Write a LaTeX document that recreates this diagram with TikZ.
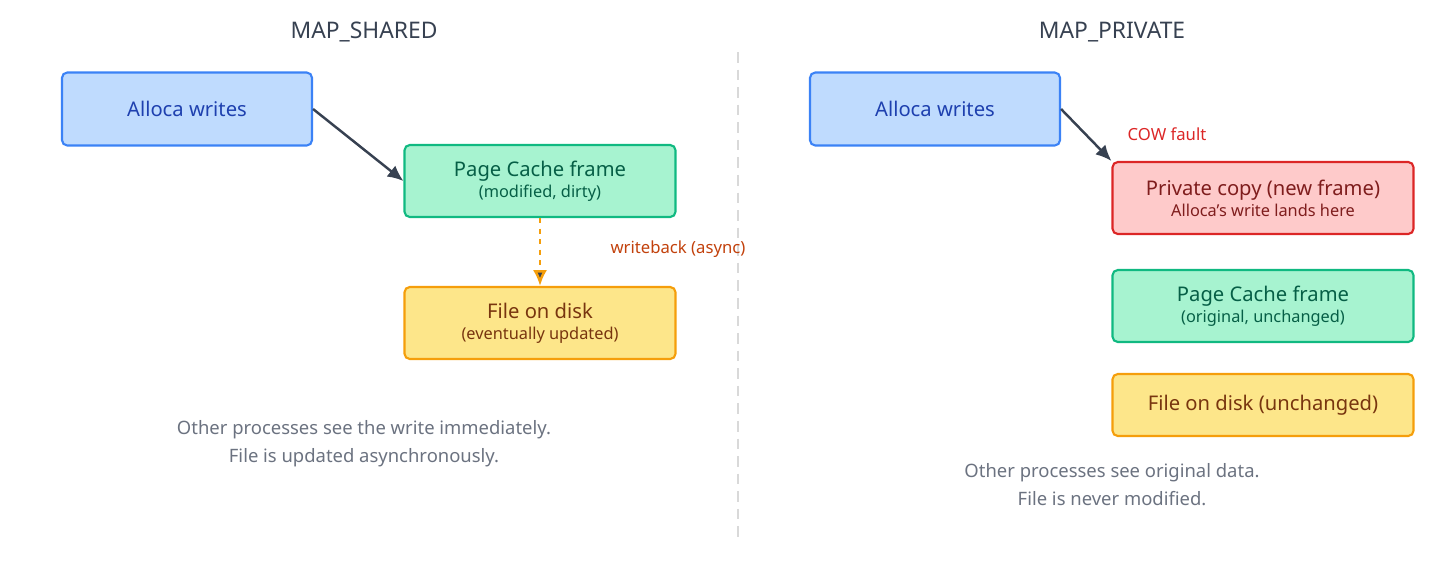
\documentclass[tikz,border=0pt]{standalone}
\usepackage{fontspec}
\setmainfont{Noto Sans}
\usetikzlibrary{calc,arrows.meta}
\definecolor{bluefill}{HTML}{BFDBFE}
\definecolor{blueline}{HTML}{3B82F6}
\definecolor{bluetext}{HTML}{1E40AF}
\definecolor{greenfill}{HTML}{A7F3D0}
\definecolor{greenline}{HTML}{10B981}
\definecolor{greentext}{HTML}{065F46}
\definecolor{yellowfill}{HTML}{FDE68A}
\definecolor{yellowline}{HTML}{F59E0B}
\definecolor{yellowtext}{HTML}{78350F}
\definecolor{redfill}{HTML}{FECACA}
\definecolor{redline}{HTML}{DC2626}
\definecolor{redtext}{HTML}{7F1D1D}
\definecolor{graytext}{HTML}{6B7280}
\definecolor{darkline}{HTML}{374151}
\definecolor{wbtext}{HTML}{C2410C}
\tikzset{
  box/.style={draw, rounded corners=3pt, line width=1.2pt, align=center,
    inner sep=0pt, font=\fontsize{11.5}{13}\selectfont},
  small/.style={font=\fontsize{9.3}{11}\selectfont},
  title/.style={font=\bfseries\fontsize{13}{15}\selectfont, text=darkline},
  note/.style={font=\fontsize{10.5}{16}\selectfont, text=graytext, align=center},
  flow/.style={-{Latex[length=9pt,width=8pt]}, line width=1.4pt, draw=darkline}
}
\begin{document}
\begin{tikzpicture}[x=0.02cm, y=-0.02cm]
  \useasboundingbox (0,0) rectangle (1456,582);
  \draw[dashed, line width=1pt, draw=gray!30, dash pattern=on 6pt off 4pt] (738,52) -- (738,540);

  % shared side
  \node[title] (tshared) at (364,32) {MAP\_SHARED};
  \node[box, fill=bluefill, draw=blueline, text=bluetext, minimum width=250*0.02cm, minimum height=73*0.02cm]
    (sw) at (187,109) {Alloca writes};
  \node[box, fill=greenfill, draw=greenline, text=greentext, minimum width=271*0.02cm, minimum height=72*0.02cm]
    (spc) at (540,181) {Page Cache frame\\[-1pt]{\small\fontsize{9.3}{11}\selectfont (modified, dirty)}};
  \node[box, fill=yellowfill, draw=yellowline, text=yellowtext, minimum width=271*0.02cm, minimum height=72*0.02cm]
    (sfile) at (540,323) {File on disk\\[-1pt]{\fontsize{9.3}{11}\selectfont (eventually updated)}};
  \draw[flow] (sw.east) -- (spc.west);
  \draw[flow, dashed, draw=yellowline, line width=1.4pt, -{Latex[length=9pt,width=8pt,fill=darkline]}] (spc.south) -- (sfile.north);
  \node[text=wbtext, font=\fontsize{9.5}{11}\selectfont] (wb) at (678,249) {writeback (async)};
  \node[note] (snote) at (364,444) {Other processes see the write immediately.\\File is updated asynchronously.};

  % private side
  \node[title] (tpriv) at (1112,32) {MAP\_PRIVATE};
  \node[box, fill=bluefill, draw=blueline, text=bluetext, minimum width=250*0.02cm, minimum height=73*0.02cm]
    (pw) at (935,109) {Alloca writes};
  \node[box, fill=redfill, draw=redline, text=redtext, minimum width=301*0.02cm, minimum height=72*0.02cm]
    (pcopy) at (1263,198) {Private copy (new frame)\\[-1pt]{\fontsize{9.3}{11}\selectfont Alloca's write lands here}};
  \node[box, fill=greenfill, draw=greenline, text=greentext, minimum width=301*0.02cm, minimum height=72*0.02cm]
    (ppc) at (1263,306) {Page Cache frame\\[-1pt]{\fontsize{9.3}{11}\selectfont (original, unchanged)}};
  \node[box, fill=yellowfill, draw=yellowline, text=yellowtext, minimum width=301*0.02cm, minimum height=62*0.02cm]
    (pfile) at (1263,405) {File on disk (unchanged)};
  \draw[flow] (pw.east) -- (pcopy.north west);
  \node[text=redline, font=\fontsize{9.5}{11}\selectfont] (cow) at (1167,134) {COW fault};
  \node[note] (pnote) at (1112,485) {Other processes see original data.\\File is never modified.};
\end{tikzpicture}
\end{document}
